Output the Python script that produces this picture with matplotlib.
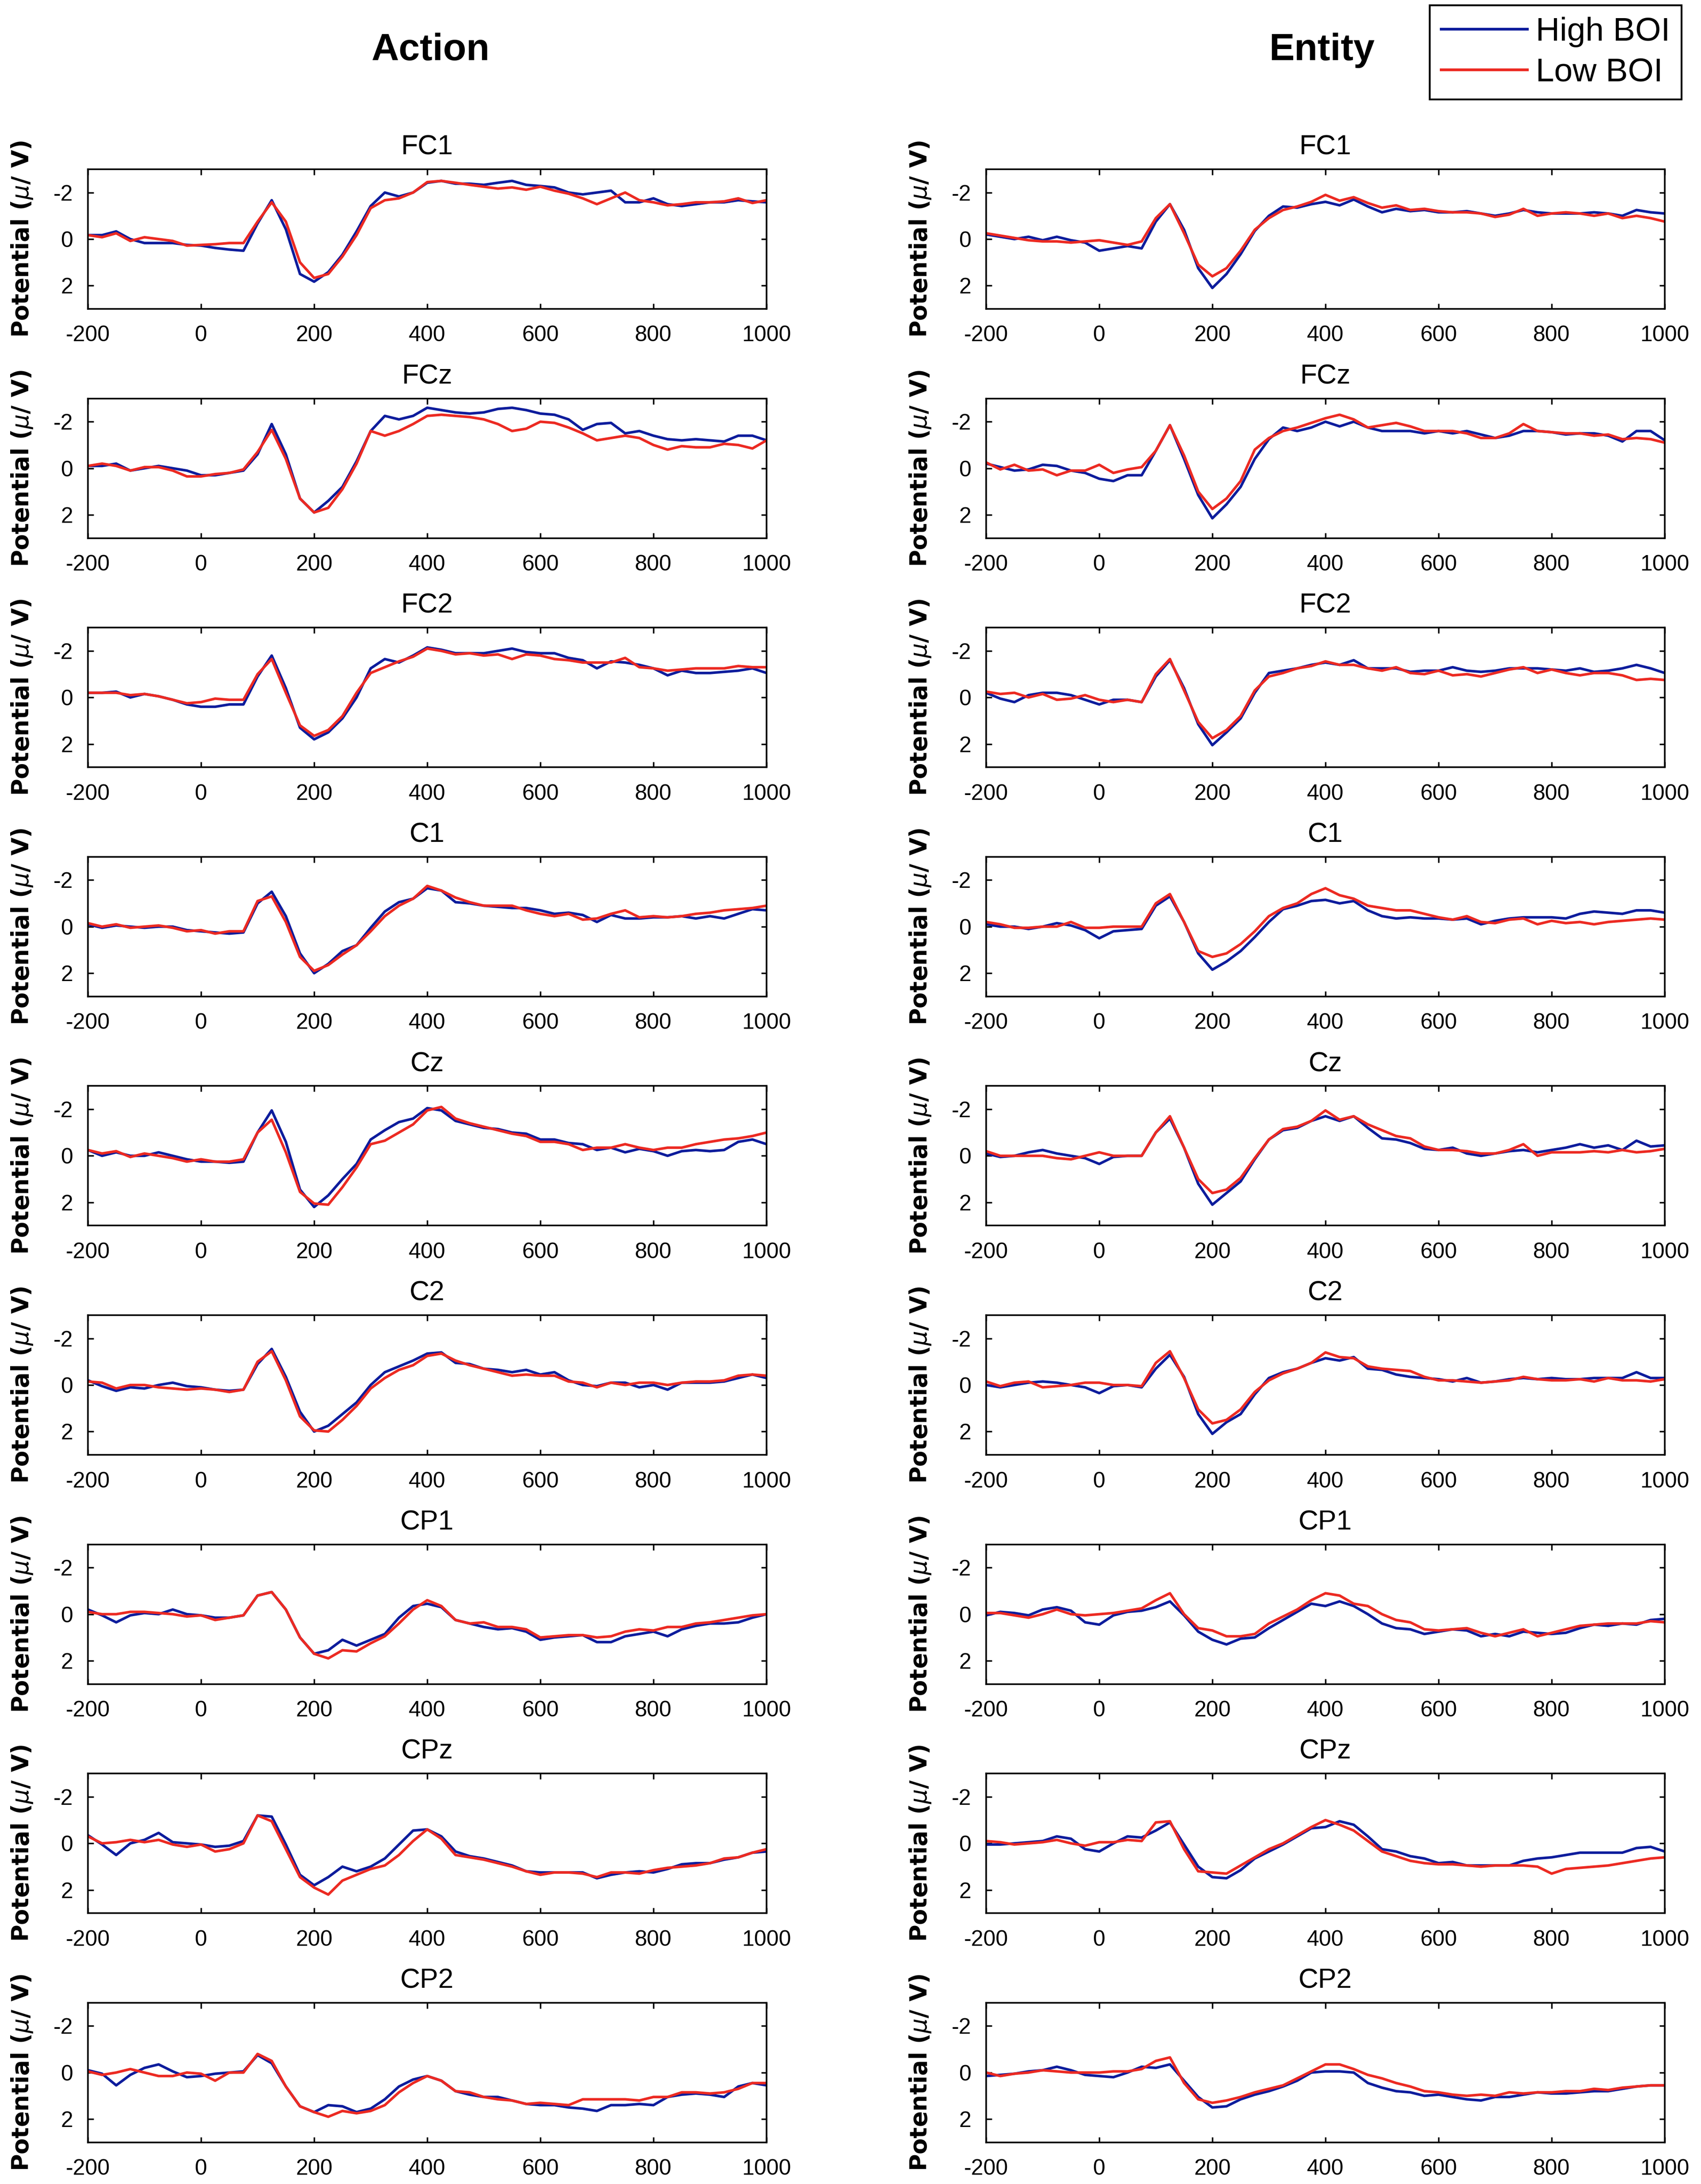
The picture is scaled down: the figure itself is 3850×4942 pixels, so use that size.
import matplotlib
matplotlib.use('Agg')
import matplotlib.pyplot as plt
from matplotlib.lines import Line2D

plt.rcParams['font.family'] = ['Liberation Sans', 'DejaVu Sans']
plt.rcParams['axes.unicode_minus'] = False

# sample times (ms), one value every 25 ms
times = list(range(-200, 1001, 25))
channels = ['FC1', 'FCz', 'FC2', 'C1', 'Cz', 'C2', 'CP1', 'CPz', 'CP2']

# ---- Action, High BOI / Low BOI (microvolts) ----
act_fc1_high = [-0.17, -0.17, -0.33, 0, 0.17, 0.17, 0.17, 0.25, 0.28, 0.38, 0.45, 0.5,
                -0.67, -1.67, -0.42, 1.5, 1.83, 1.42, 0.67, -0.33, -1.42, -2.0, -1.83, -2.0,
                -2.42, -2.5, -2.38, -2.38, -2.33, -2.42, -2.5, -2.33, -2.28, -2.22, -2.0, -1.92,
                -2.0, -2.08, -1.58, -1.58, -1.75, -1.5, -1.42, -1.5, -1.58, -1.58, -1.67, -1.62,
                -1.58]
act_fc1_low = [-0.17, -0.08, -0.25, 0.08, -0.08, 0, 0.08, 0.28, 0.25, 0.22, 0.17, 0.17,
               -0.75, -1.58, -0.75, 1.0, 1.67, 1.5, 0.75, -0.17, -1.33, -1.67, -1.75, -2.0,
               -2.45, -2.5, -2.42, -2.33, -2.25, -2.17, -2.22, -2.12, -2.25, -2.08, -1.95, -1.75,
               -1.5, -1.75, -2.0, -1.67, -1.58, -1.45, -1.5, -1.58, -1.58, -1.62, -1.75, -1.55,
               -1.67]
act_fcz_high = [-0.1, -0.1, -0.2, 0.1, 0, -0.1, 0, 0.1, 0.3, 0.3, 0.2, 0.1,
                -0.6, -1.9, -0.6, 1.3, 1.9, 1.4, 0.8, -0.3, -1.6, -2.25, -2.1, -2.25,
                -2.6, -2.5, -2.4, -2.35, -2.4, -2.55, -2.6, -2.5, -2.35, -2.3, -2.1, -1.65,
                -1.9, -1.95, -1.5, -1.6, -1.4, -1.25, -1.2, -1.25, -1.2, -1.15, -1.4, -1.4,
                -1.2]
act_fcz_low = [-0.1, -0.2, -0.1, 0.1, -0.05, -0.05, 0.1, 0.35, 0.35, 0.25, 0.2, 0.05,
               -0.7, -1.65, -0.4, 1.3, 1.9, 1.7, 0.9, -0.2, -1.6, -1.4, -1.6, -1.9,
               -2.25, -2.3, -2.25, -2.2, -2.1, -1.9, -1.6, -1.7, -2.0, -1.95, -1.75, -1.5,
               -1.2, -1.3, -1.4, -1.3, -1.0, -0.8, -0.95, -0.9, -0.9, -1.05, -1.0, -0.85,
               -1.2]
act_fc2_high = [-0.2, -0.2, -0.25, 0, -0.15, -0.05, 0.1, 0.3, 0.4, 0.4, 0.3, 0.3,
                -0.9, -1.8, -0.4, 1.3, 1.8, 1.5, 0.9, 0, -1.25, -1.65, -1.5, -1.8,
                -2.15, -2.05, -1.9, -1.9, -1.9, -2.0, -2.1, -1.95, -1.9, -1.9, -1.7, -1.6,
                -1.25, -1.55, -1.5, -1.4, -1.25, -0.95, -1.15, -1.05, -1.05, -1.1, -1.15, -1.25,
                -1.05]
act_fc2_low = [-0.2, -0.2, -0.2, -0.1, -0.15, -0.05, 0.1, 0.25, 0.2, 0.05, 0.1, 0.1,
               -1.0, -1.65, -0.2, 1.2, 1.65, 1.4, 0.8, -0.2, -1.05, -1.3, -1.55, -1.75,
               -2.1, -2.0, -1.85, -1.9, -1.8, -1.85, -1.65, -1.85, -1.8, -1.65, -1.6, -1.5,
               -1.5, -1.5, -1.7, -1.3, -1.25, -1.15, -1.2, -1.25, -1.25, -1.25, -1.35, -1.3,
               -1.3]
act_c1_high = [-0.1, 0.05, -0.05, 0, 0.05, 0, 0, 0.15, 0.2, 0.25, 0.3, 0.25,
               -1.0, -1.5, -0.45, 1.15, 2.0, 1.6, 1.05, 0.8, 0.05, -0.65, -1.05, -1.2,
               -1.65, -1.55, -1.05, -1.0, -0.9, -0.85, -0.8, -0.8, -0.7, -0.55, -0.6, -0.5,
               -0.2, -0.5, -0.35, -0.35, -0.4, -0.4, -0.45, -0.35, -0.45, -0.35, -0.55, -0.75,
               -0.7]
act_c1_low = [-0.15, 0, -0.1, 0.05, 0, -0.05, 0.05, 0.2, 0.15, 0.3, 0.2, 0.2,
              -1.1, -1.3, -0.2, 1.3, 1.9, 1.65, 1.2, 0.8, 0.2, -0.45, -0.9, -1.2,
              -1.75, -1.55, -1.25, -1.05, -0.9, -0.9, -0.9, -0.7, -0.55, -0.45, -0.55, -0.3,
              -0.35, -0.55, -0.7, -0.4, -0.45, -0.4, -0.45, -0.55, -0.6, -0.7, -0.75, -0.8,
              -0.9]
act_cz_high = [-0.25, 0, -0.15, 0, 0, -0.15, 0, 0.15, 0.25, 0.25, 0.3, 0.25,
               -1.0, -1.95, -0.6, 1.45, 2.2, 1.7, 1.0, 0.35, -0.7, -1.1, -1.45, -1.6,
               -2.05, -1.95, -1.5, -1.35, -1.2, -1.15, -1.0, -0.95, -0.7, -0.7, -0.55, -0.5,
               -0.25, -0.35, -0.15, -0.3, -0.2, 0, -0.2, -0.25, -0.2, -0.25, -0.6, -0.7,
               -0.5]
act_cz_low = [-0.25, -0.1, -0.2, 0.05, -0.1, 0, 0.1, 0.25, 0.15, 0.25, 0.25, 0.15,
              -1.0, -1.55, -0.15, 1.55, 2.05, 2.1, 1.35, 0.5, -0.5, -0.65, -1.0, -1.35,
              -1.95, -2.1, -1.6, -1.4, -1.25, -1.1, -0.95, -0.85, -0.6, -0.6, -0.5, -0.25,
              -0.35, -0.35, -0.5, -0.35, -0.25, -0.35, -0.35, -0.5, -0.6, -0.7, -0.75, -0.85,
              -1.0]
act_c2_high = [-0.2, 0.05, 0.25, 0.1, 0.15, 0, -0.1, 0.05, 0.1, 0.2, 0.25, 0.2,
               -0.9, -1.55, -0.35, 1.15, 2.0, 1.75, 1.25, 0.75, 0, -0.55, -0.8, -1.05,
               -1.35, -1.4, -0.95, -0.9, -0.7, -0.65, -0.55, -0.65, -0.45, -0.55, -0.2, 0,
               0.05, -0.1, -0.1, 0.1, 0, 0.2, -0.1, -0.1, -0.1, -0.15, -0.3, -0.45,
               -0.3]
act_c2_low = [-0.15, -0.1, 0.15, 0, 0, 0.1, 0.15, 0.2, 0.15, 0.2, 0.3, 0.2,
              -1.0, -1.45, -0.2, 1.35, 1.95, 2.0, 1.5, 0.9, 0.15, -0.3, -0.65, -0.85,
              -1.25, -1.35, -1.05, -0.85, -0.7, -0.55, -0.4, -0.45, -0.4, -0.4, -0.15, -0.1,
              0.1, -0.1, 0, -0.1, -0.1, 0, -0.1, -0.15, -0.15, -0.2, -0.4, -0.45,
              -0.4]
act_cp1_high = [-0.2, 0.05, 0.35, 0.05, -0.05, 0, -0.2, 0, 0.05, 0.15, 0.15, 0.05,
                -0.8, -0.95, -0.2, 1.0, 1.7, 1.55, 1.1, 1.35, 1.1, 0.85, 0.15, -0.35,
                -0.45, -0.3, 0.25, 0.4, 0.55, 0.65, 0.6, 0.75, 1.1, 1.0, 0.95, 0.9,
                1.2, 1.2, 0.95, 0.85, 0.75, 0.95, 0.65, 0.5, 0.4, 0.4, 0.35, 0.15,
                0]
act_cp1_low = [-0.1, 0, 0, -0.1, -0.1, -0.05, 0, 0.1, 0.05, 0.25, 0.15, 0.05,
               -0.8, -0.95, -0.2, 1.0, 1.7, 1.9, 1.55, 1.6, 1.25, 0.95, 0.4, -0.2,
               -0.6, -0.35, 0.25, 0.4, 0.35, 0.55, 0.55, 0.65, 1.0, 0.95, 0.9, 0.9,
               1.0, 0.95, 0.75, 0.65, 0.7, 0.55, 0.55, 0.4, 0.35, 0.25, 0.15, 0.05,
               0]
act_cpz_high = [-0.35, 0.05, 0.5, 0, -0.15, -0.45, -0.05, 0, 0.05, 0.15, 0.1, -0.1,
                -1.2, -1.15, 0.05, 1.35, 1.8, 1.45, 1.0, 1.2, 1.0, 0.65, 0.05, -0.55,
                -0.6, -0.3, 0.35, 0.55, 0.65, 0.8, 0.95, 1.2, 1.25, 1.25, 1.25, 1.25,
                1.5, 1.35, 1.25, 1.2, 1.25, 1.1, 0.9, 0.85, 0.85, 0.7, 0.6, 0.4,
                0.35]
act_cpz_low = [-0.3, 0, -0.05, -0.15, -0.05, -0.15, 0.05, 0.15, 0.05, 0.35, 0.25, 0,
               -1.2, -0.95, 0.25, 1.45, 1.9, 2.2, 1.6, 1.35, 1.1, 0.95, 0.5, -0.1,
               -0.6, -0.2, 0.5, 0.6, 0.7, 0.85, 1.0, 1.2, 1.35, 1.25, 1.25, 1.3,
               1.45, 1.25, 1.25, 1.3, 1.15, 1.05, 1.0, 0.95, 0.85, 0.65, 0.6, 0.4,
               0.25]
act_cp2_high = [-0.1, 0.05, 0.55, 0.1, -0.2, -0.35, -0.05, 0.2, 0.15, 0.05, 0, -0.05,
                -0.75, -0.4, 0.6, 1.45, 1.7, 1.4, 1.45, 1.7, 1.55, 1.15, 0.6, 0.3,
                0.15, 0.35, 0.8, 0.95, 1.05, 1.05, 1.2, 1.35, 1.4, 1.4, 1.5, 1.55,
                1.65, 1.4, 1.4, 1.35, 1.4, 1.05, 0.95, 0.9, 0.95, 1.05, 0.6, 0.45,
                0.55]
act_cp2_low = [-0.05, 0.1, 0, -0.15, 0, 0.15, 0.15, 0, 0.05, 0.35, 0, 0,
               -0.8, -0.5, 0.6, 1.45, 1.7, 1.9, 1.65, 1.75, 1.65, 1.4, 0.85, 0.45,
               0.15, 0.35, 0.8, 0.85, 1.05, 1.15, 1.2, 1.35, 1.3, 1.35, 1.4, 1.15,
               1.15, 1.15, 1.15, 1.2, 1.05, 1.05, 0.85, 0.85, 0.9, 0.85, 0.7, 0.45,
               0.45]

# ---- Entity, High BOI / Low BOI (microvolts) ----
ent_fc1_high = [-0.2, -0.1, 0, -0.1, 0.05, -0.1, 0.05, 0.15, 0.5, 0.4, 0.3, 0.4,
                -0.75, -1.5, -0.4, 1.25, 2.1, 1.5, 0.65, -0.35, -1.0, -1.4, -1.35, -1.5,
                -1.6, -1.45, -1.7, -1.4, -1.15, -1.3, -1.2, -1.25, -1.15, -1.15, -1.2, -1.1,
                -1.0, -1.1, -1.25, -1.15, -1.1, -1.1, -1.1, -1.15, -1.1, -1.0, -1.25, -1.15,
                -1.1]
ent_fc1_low = [-0.25, -0.15, -0.05, 0.05, 0.1, 0.1, 0.15, 0.1, 0.05, 0.15, 0.25, 0.1,
               -0.9, -1.5, -0.25, 1.1, 1.6, 1.25, 0.5, -0.4, -0.9, -1.25, -1.4, -1.6,
               -1.9, -1.65, -1.8, -1.55, -1.35, -1.45, -1.25, -1.3, -1.2, -1.15, -1.15, -1.1,
               -0.95, -1.05, -1.3, -1.0, -1.1, -1.15, -1.1, -1.0, -1.1, -0.9, -1.0, -0.9,
               -0.75]
ent_fcz_high = [-0.2, -0.05, 0.1, 0.05, -0.15, -0.1, 0.1, 0.2, 0.45, 0.55, 0.3, 0.3,
                -0.75, -1.85, -0.4, 1.15, 2.15, 1.55, 0.8, -0.4, -1.25, -1.75, -1.6, -1.75,
                -2.0, -1.8, -2.0, -1.75, -1.6, -1.6, -1.6, -1.5, -1.6, -1.5, -1.6, -1.45,
                -1.3, -1.4, -1.6, -1.6, -1.55, -1.45, -1.5, -1.5, -1.4, -1.15, -1.6, -1.6,
                -1.2]
ent_fcz_low = [-0.25, 0.05, -0.15, 0.1, 0.05, 0.3, 0.1, 0.1, -0.15, 0.2, 0.05, -0.05,
               -0.75, -1.85, -0.55, 1.0, 1.75, 1.3, 0.55, -0.8, -1.3, -1.6, -1.75, -1.95,
               -2.15, -2.3, -2.1, -1.75, -1.85, -1.95, -1.8, -1.6, -1.6, -1.6, -1.5, -1.3,
               -1.3, -1.5, -1.9, -1.6, -1.55, -1.5, -1.5, -1.4, -1.45, -1.25, -1.3, -1.25,
               -1.1]
ent_fc2_high = [-0.2, 0.05, 0.2, -0.1, -0.2, -0.2, -0.1, 0.1, 0.3, 0.1, 0.1, 0.2,
                -0.9, -1.6, -0.4, 1.15, 2.05, 1.5, 0.9, -0.2, -1.05, -1.15, -1.25, -1.4,
                -1.5, -1.4, -1.6, -1.25, -1.25, -1.25, -1.1, -1.15, -1.15, -1.3, -1.15, -1.1,
                -1.15, -1.25, -1.25, -1.25, -1.2, -1.15, -1.25, -1.1, -1.15, -1.25, -1.4, -1.25,
                -1.05]
ent_fc2_low = [-0.25, -0.15, -0.2, 0, -0.15, 0.1, 0.05, -0.1, 0.1, 0.2, 0.1, 0.2,
               -1.0, -1.65, -0.3, 1.05, 1.75, 1.4, 0.8, -0.3, -0.9, -1.05, -1.25, -1.35,
               -1.55, -1.4, -1.4, -1.25, -1.15, -1.3, -1.05, -1.0, -1.15, -0.95, -1.0, -0.9,
               -1.05, -1.2, -1.3, -1.05, -1.2, -1.05, -0.95, -1.05, -1.05, -0.95, -0.75, -0.8,
               -0.75]
ent_c1_high = [-0.1, 0, 0, 0.1, 0, -0.15, -0.05, 0.15, 0.5, 0.2, 0.15, 0.1,
               -0.9, -1.3, -0.2, 1.15, 1.85, 1.5, 1.05, 0.45, -0.2, -0.75, -0.9, -1.1,
               -1.15, -1.0, -1.1, -0.7, -0.45, -0.35, -0.4, -0.35, -0.35, -0.3, -0.35, -0.1,
               -0.25, -0.35, -0.4, -0.4, -0.4, -0.35, -0.55, -0.65, -0.6, -0.55, -0.7, -0.7,
               -0.6]
ent_c1_low = [-0.2, -0.1, 0.05, 0.05, 0, 0, -0.2, 0.05, 0.05, 0, 0, 0,
              -1.0, -1.4, -0.2, 1.05, 1.3, 1.15, 0.75, 0.2, -0.45, -0.8, -1.0, -1.4,
              -1.65, -1.35, -1.2, -0.9, -0.8, -0.7, -0.7, -0.55, -0.4, -0.3, -0.45, -0.2,
              -0.15, -0.3, -0.35, -0.1, -0.25, -0.15, -0.2, -0.1, -0.2, -0.25, -0.3, -0.35,
              -0.3]
ent_cz_high = [-0.1, 0.05, 0, -0.15, -0.25, -0.1, 0, 0.1, 0.35, 0.05, 0, 0,
               -1.0, -1.6, -0.35, 1.2, 2.1, 1.6, 1.1, 0.15, -0.7, -1.1, -1.2, -1.5,
               -1.7, -1.5, -1.7, -1.2, -0.75, -0.7, -0.55, -0.3, -0.25, -0.35, -0.1, 0,
               -0.1, -0.2, -0.25, -0.15, -0.25, -0.35, -0.5, -0.35, -0.45, -0.25, -0.65, -0.4,
               -0.45]
ent_cz_low = [-0.2, 0, 0, 0, 0, 0.1, 0.15, 0, -0.15, 0, 0, 0,
              -1.0, -1.7, -0.35, 1.0, 1.6, 1.45, 0.95, 0.1, -0.7, -1.15, -1.25, -1.5,
              -1.95, -1.55, -1.7, -1.35, -1.1, -0.85, -0.75, -0.4, -0.25, -0.25, -0.2, -0.1,
              -0.1, -0.25, -0.5, 0, -0.15, -0.15, -0.15, -0.2, -0.15, -0.25, -0.15, -0.2,
              -0.3]
ent_c2_high = [0, 0.1, 0, -0.1, -0.15, -0.1, 0, 0.1, 0.35, 0.05, 0, 0.1,
               -0.7, -1.3, -0.35, 1.25, 2.1, 1.6, 1.25, 0.4, -0.3, -0.55, -0.7, -0.95,
               -1.15, -1.05, -1.2, -0.7, -0.65, -0.45, -0.35, -0.3, -0.25, -0.15, -0.3, -0.1,
               -0.15, -0.25, -0.3, -0.25, -0.3, -0.25, -0.25, -0.3, -0.3, -0.3, -0.55, -0.3,
               -0.3]
ent_c2_low = [-0.15, 0.05, -0.1, -0.15, 0.1, 0.05, 0, -0.1, -0.1, 0, 0, 0.05,
              -0.95, -1.45, -0.3, 1.05, 1.65, 1.5, 1.05, 0.3, -0.2, -0.5, -0.7, -0.95,
              -1.4, -1.2, -1.15, -0.8, -0.7, -0.65, -0.6, -0.35, -0.2, -0.2, -0.15, -0.1,
              -0.15, -0.2, -0.35, -0.25, -0.2, -0.2, -0.25, -0.15, -0.3, -0.2, -0.2, -0.15,
              -0.25]
ent_cp1_high = [0.05, -0.1, -0.05, 0.05, -0.2, -0.3, -0.15, 0.35, 0.45, 0.05, -0.1, -0.15,
                -0.3, -0.55, 0.05, 0.75, 1.1, 1.3, 1.05, 1.0, 0.6, 0.25, -0.1, -0.45,
                -0.35, -0.55, -0.35, 0, 0.4, 0.6, 0.65, 0.85, 0.75, 0.65, 0.7, 0.95,
                0.85, 0.95, 0.75, 0.8, 0.85, 0.8, 0.6, 0.45, 0.5, 0.4, 0.45, 0.25,
                0.2]
ent_cp1_low = [-0.05, -0.05, 0.05, 0.15, 0, -0.2, 0, 0.05, 0, -0.05, -0.15, -0.25,
               -0.6, -0.9, 0, 0.6, 0.7, 0.95, 0.95, 0.85, 0.4, 0.1, -0.2, -0.6,
               -0.9, -0.8, -0.45, -0.35, 0, 0.25, 0.35, 0.65, 0.7, 0.65, 0.6, 0.8,
               0.95, 0.8, 0.65, 0.95, 0.8, 0.65, 0.5, 0.45, 0.4, 0.4, 0.4, 0.3,
               0.35]
ent_cpz_high = [0.05, 0.05, 0, -0.05, -0.1, -0.3, -0.2, 0.25, 0.35, 0, -0.3, -0.25,
                -0.55, -0.9, 0.05, 1.0, 1.45, 1.5, 1.15, 0.65, 0.35, 0.05, -0.3, -0.65,
                -0.7, -0.95, -0.8, -0.3, 0.25, 0.35, 0.55, 0.65, 0.85, 0.8, 0.95, 0.95,
                0.95, 0.95, 0.75, 0.65, 0.6, 0.5, 0.4, 0.4, 0.4, 0.4, 0.2, 0.15,
                0.35]
ent_cpz_low = [-0.1, -0.05, 0.05, 0, -0.05, -0.15, 0, 0.1, -0.05, -0.05, -0.15, -0.1,
               -0.9, -0.95, 0.25, 1.2, 1.25, 1.3, 0.95, 0.6, 0.25, 0, -0.35, -0.7,
               -1.0, -0.8, -0.55, -0.1, 0.35, 0.55, 0.75, 0.85, 0.9, 0.9, 0.95, 1.0,
               0.95, 0.95, 0.95, 1.0, 1.3, 1.1, 1.05, 1.0, 0.95, 0.85, 0.75, 0.65,
               0.6]
ent_cp2_high = [0.15, 0.1, 0.05, -0.05, -0.1, -0.25, -0.1, 0.1, 0.15, 0.2, 0, -0.25,
                -0.2, -0.35, 0.35, 1.05, 1.5, 1.45, 1.15, 0.95, 0.8, 0.6, 0.35, 0,
                -0.05, -0.05, 0, 0.45, 0.65, 0.8, 0.85, 1.0, 0.95, 1.05, 1.15, 1.2,
                1.05, 1.05, 0.95, 0.85, 0.9, 0.9, 0.85, 0.8, 0.8, 0.7, 0.6, 0.55,
                0.55]
ent_cp2_low = [0, 0.15, 0.05, 0, -0.1, -0.05, 0, 0, 0, -0.05, -0.05, -0.15,
               -0.5, -0.65, 0.45, 1.15, 1.3, 1.2, 1.05, 0.85, 0.7, 0.55, 0.25, -0.05,
               -0.35, -0.35, -0.15, 0.1, 0.25, 0.45, 0.6, 0.8, 0.85, 0.95, 1.0, 0.95,
               1.0, 0.85, 0.9, 0.85, 0.85, 0.8, 0.8, 0.7, 0.75, 0.65, 0.6, 0.55,
               0.55]

action_high = [act_fc1_high, act_fcz_high, act_fc2_high, act_c1_high, act_cz_high,
               act_c2_high, act_cp1_high, act_cpz_high, act_cp2_high]
action_low = [act_fc1_low, act_fcz_low, act_fc2_low, act_c1_low, act_cz_low,
              act_c2_low, act_cp1_low, act_cpz_low, act_cp2_low]
entity_high = [ent_fc1_high, ent_fcz_high, ent_fc2_high, ent_c1_high, ent_cz_high,
               ent_c2_high, ent_cp1_high, ent_cpz_high, ent_cp2_high]
entity_low = [ent_fc1_low, ent_fcz_low, ent_fc2_low, ent_c1_low, ent_cz_low,
              ent_c2_low, ent_cp1_low, ent_cpz_low, ent_cp2_low]

BLUE = '#0d1c9c'
RED = '#ec2a22'

W, H = 3850, 4942
fig = plt.figure(figsize=(W / 100, H / 100), dpi=100)

col_left = [199, 2232]
ax_w, ax_h = 1536, 316
row_top0, row_step = 383, 518.6

for col, (highs, lows) in enumerate([(action_high, action_low), (entity_high, entity_low)]):
    for row, ch in enumerate(channels):
        top = row_top0 + row_step * row
        ax = fig.add_axes([col_left[col] / W, 1 - (top + ax_h) / H, ax_w / W, ax_h / H])
        ax.plot(times, highs[row], color=BLUE, lw=4.2)
        ax.plot(times, lows[row], color=RED, lw=4.2)
        ax.set_xlim(-200, 1000)
        ax.set_ylim(3, -3)
        ax.set_xticks(range(-200, 1001, 200))
        ax.set_yticks([-2, 0, 2])
        ax.tick_params(direction='in', top=True, right=True, length=9, width=2.5,
                       labelsize=36)
        ax.tick_params(axis='x', pad=27)
        ax.tick_params(axis='y', pad=24)
        for sp in ax.spines.values():
            sp.set_linewidth(2.6)
        ax.set_title(ch, fontsize=45, pad=24)
        ax.set_ylabel('Potential ($\\mu$/ V)', fontsize=38, fontweight='bold',
                      family='DejaVu Sans')
        ax.yaxis.set_label_coords(-0.079, 0.5)

fig.text(975 / W, 1 - 114 / H, 'Action', ha='center', va='center',
         fontsize=62, fontweight='bold')
fig.text(2992 / W, 1 - 114 / H, 'Entity', ha='center', va='center',
         fontsize=62, fontweight='bold')

handles = [Line2D([], [], color=BLUE, lw=4.5), Line2D([], [], color=RED, lw=4.5)]
leg = fig.legend(handles, ['High BOI', 'Low BOI'], loc='upper right',
                 bbox_to_anchor=(3806 / W, 1 - 12 / H), fontsize=54, frameon=True,
                 fancybox=False, edgecolor='black', framealpha=1, handlelength=2.6,
                 handletextpad=0.25, borderpad=0.35, labelspacing=0.3, borderaxespad=0)
leg.get_frame().set_linewidth(3)

fig.savefig('out.png', dpi=100)
